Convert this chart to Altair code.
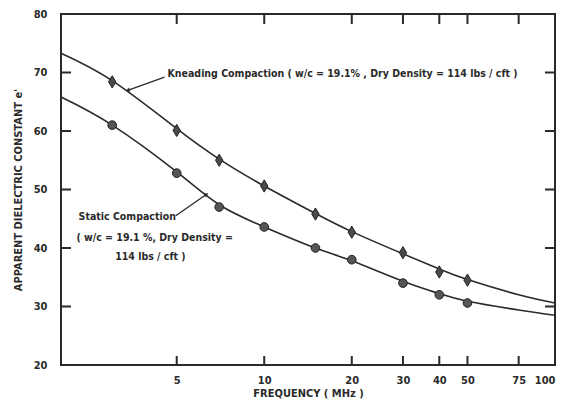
import altair as alt
import pandas as pd

# measured points
freq_pts = [3, 5, 7, 10, 15, 20, 30, 40, 50]
kneading_pts = [68.4, 60.1, 55.0, 50.6, 45.8, 42.7, 39.2, 35.9, 34.5]
static_pts = [61.0, 52.8, 47.0, 43.6, 40.0, 38.0, 34.0, 32.0, 30.6]

# fitted curves
curve_freq = [2, 3, 5, 7, 10, 15, 20, 30, 40, 50, 75, 100]
kneading_curve = [73.3, 68.6, 60.4, 55.2, 50.6, 45.9, 42.8, 39.0, 36.4, 34.6, 32.0, 30.6]
static_curve = [65.8, 61.0, 53.0, 47.4, 43.6, 40.0, 37.8, 34.3, 32.2, 30.9, 29.4, 28.5]

x_ticks = [5, 10, 20, 30, 40, 50, 75]
x_labels = [5, 10, 20, 30, 40, 50, 75, 100]
y_ticks = [30, 40, 50, 60, 70]
y_labels = [20, 30, 40, 50, 60, 70, 80]

# annotations
ann_text = [
    "Kneading  Compaction  ( w/c  =  19.1% , Dry  Density  =  114 lbs / cft )",
    "Static  Compaction",
    "( w/c = 19.1 %, Dry  Density =",
    "114  lbs / cft )",
]
ann_x = [4.65, 3.38, 4.20, 4.06]
ann_y = [69.7, 45.3, 41.7, 38.5]

arrow_x1 = [4.54, 4.96]
arrow_y1 = [69.2, 45.5]
arrow_x2 = [3.41, 6.30]
arrow_y2 = [67.0, 49.1]
arrow_angle = [250, 59]

W, H = 494, 351
FONT = "Liberation Sans Narrow, DejaVu Sans Condensed, Liberation Sans, sans-serif"
INK = "#2a2a2a"

xs = alt.Scale(type="log", domain=[2, 100], nice=False)
ys = alt.Scale(domain=[20, 80], nice=False, zero=False)

pts = pd.DataFrame({"f": freq_pts, "k": kneading_pts, "s": static_pts})
curves = pd.DataFrame({"f": curve_freq, "k": kneading_curve, "s": static_curve})

base_x = alt.X("f:Q", scale=xs,
               axis=alt.Axis(values=x_labels, title="FREQUENCY   ( MHz )", ticks=False,
                             domain=False, grid=False, labelPadding=9, titlePadding=2,
                             labelFlush=True))
base_y_k = alt.Y("k:Q", scale=ys,
                 axis=alt.Axis(values=y_labels, title="APPARENT  DIELECTRIC  CONSTANT  e'",
                               ticks=False, domain=False, grid=False, labelPadding=14,
                               titlePadding=10))

k_line = alt.Chart(curves).mark_line(interpolate="natural", color=INK, strokeWidth=1.6).encode(
    x=base_x, y=base_y_k)
s_line = alt.Chart(curves).mark_line(interpolate="natural", color=INK, strokeWidth=1.6).encode(
    x=alt.X("f:Q", scale=xs), y=alt.Y("s:Q", scale=ys))

k_pts = alt.Chart(pts).mark_point(shape="M0,-1L0.6,0L0,1L-0.6,0Z", filled=True, size=150,
                                  fill="#4a4a4a", stroke="#222", strokeWidth=1, opacity=1).encode(
    x=alt.X("f:Q", scale=xs), y=alt.Y("k:Q", scale=ys))
s_pts = alt.Chart(pts).mark_point(shape="circle", filled=True, size=75,
                                  fill="#555", stroke="#222", strokeWidth=1, opacity=1).encode(
    x=alt.X("f:Q", scale=xs), y=alt.Y("s:Q", scale=ys))

ann = pd.DataFrame({"t": ann_text, "x": ann_x, "y": ann_y})
ann_left = alt.Chart(ann.iloc[:1]).mark_text(align="left", baseline="middle", font=FONT,
                                             fontSize=10.5, fontWeight="bold", color=INK).encode(
    x=alt.X("x:Q", scale=xs), y=alt.Y("y:Q", scale=ys), text="t:N")
ann_center = alt.Chart(ann.iloc[1:]).mark_text(align="center", baseline="middle", font=FONT,
                                               fontSize=10.5, fontWeight="bold", color=INK).encode(
    x=alt.X("x:Q", scale=xs), y=alt.Y("y:Q", scale=ys), text="t:N")

arr = pd.DataFrame({"x1": arrow_x1, "y1": arrow_y1, "x2": arrow_x2, "y2": arrow_y2,
                    "ang": arrow_angle})
arrow_lines = alt.Chart(arr).mark_rule(color=INK, strokeWidth=1.3).encode(
    x=alt.X("x1:Q", scale=xs), y=alt.Y("y1:Q", scale=ys), x2="x2:Q", y2="y2:Q")
arrow_heads = alt.Chart(arr).mark_point(shape="triangle", filled=True, size=22, color=INK,
                                        opacity=1).encode(
    x=alt.X("x2:Q", scale=xs), y=alt.Y("y2:Q", scale=ys),
    angle=alt.Angle("ang:Q", scale=None))

xt = pd.DataFrame({"v": x_ticks})
yt = pd.DataFrame({"v": y_ticks})
tick_bottom = alt.Chart(xt).mark_rule(color=INK, strokeWidth=2).encode(
    x=alt.X("v:Q", scale=xs), y=alt.value(H), y2=alt.value(H - 9))
tick_top = alt.Chart(xt).mark_rule(color=INK, strokeWidth=2).encode(
    x=alt.X("v:Q", scale=xs), y=alt.value(0), y2=alt.value(10))
tick_left = alt.Chart(yt).mark_rule(color=INK, strokeWidth=2).encode(
    y=alt.Y("v:Q", scale=ys), x=alt.value(0), x2=alt.value(10))
tick_right = alt.Chart(yt).mark_rule(color=INK, strokeWidth=2).encode(
    y=alt.Y("v:Q", scale=ys), x=alt.value(W - 10), x2=alt.value(W))

chart = alt.layer(
    k_line, s_line, k_pts, s_pts, arrow_lines, arrow_heads, ann_left, ann_center,
    tick_bottom, tick_top, tick_left, tick_right,
).properties(
    width=W, height=H,
    autosize=alt.AutoSizeParams(type="none"),
    padding={"left": 53, "top": 6, "right": 2, "bottom": 42},
).configure_view(
    stroke=INK, strokeWidth=2
).configure_axis(
    labelFont=FONT, titleFont=FONT, labelFontSize=11, titleFontSize=11,
    labelFontWeight="bold", titleFontWeight="bold", labelColor=INK, titleColor=INK,
)

chart.save("out.html", embed_options={"renderer": "svg", "actions": False})
